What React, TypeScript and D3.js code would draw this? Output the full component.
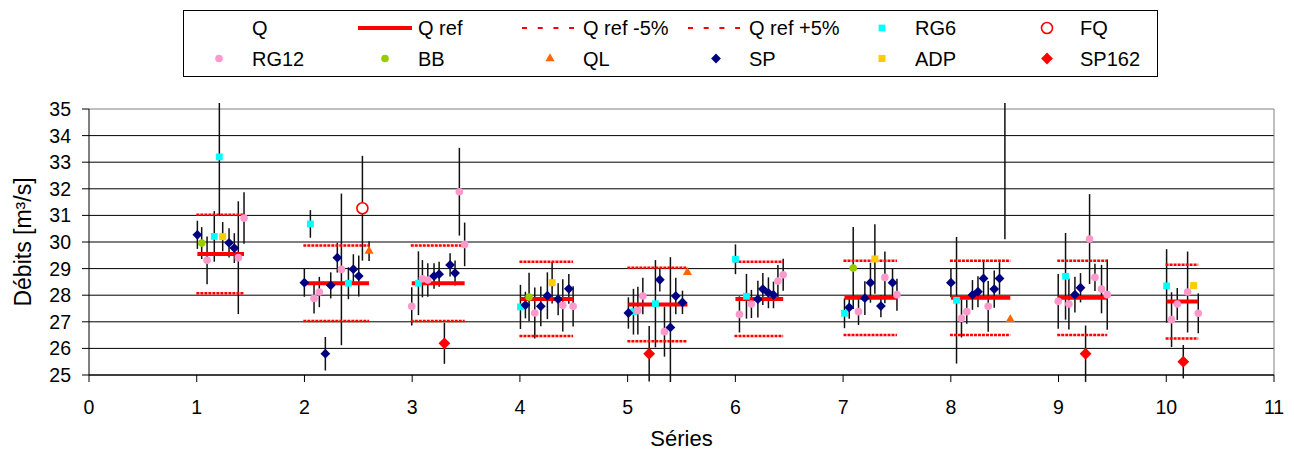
import React from "react";
import * as d3 from "d3";

// [x position on the "Séries" axis, flow m3/s, error half-width]
const RG6 = [
  [1.163, 30.21, 0.95], [1.21, 33.2, 2.2],
  [2.055, 30.68, 0.52], [2.408, 28.45, 0.6],
  [3.058, 28.45, 1.2],
  [4.005, 27.56, 0.83],
  [5.054, 27.38, 0.86], [5.258, 27.68, 1.64],
  [6.001, 29.35, 0.56], [6.103, 27.96, 0.84],
  [7.013, 27.32, 0.56],
  [8.053, 27.81, 2.38],
  [9.065, 28.71, 1.63],
  [10.003, 28.35, 1.38],
];
const FQ = [[2.538, 31.27, 1.97], [8.502, 37.5, 7.4]];
const RG12 = [
  [1.096, 29.31, 0.9], [1.386, 29.41, 2.12], [1.439, 30.9, 0.97],
  [2.089, 27.88, 0.57], [2.138, 28.12, 0.57], [2.343, 28.97, 2.85],
  [2.996, 27.58, 0.72], [3.095, 28.62, 0.7], [3.145, 28.57, 0.63], [3.438, 31.89, 1.65], [3.487, 29.91, 0.82],
  [4.138, 27.33, 0.96], [4.398, 27.62, 0.98], [4.494, 27.58, 0.76],
  [5.095, 27.42, 0.9], [5.141, 27.97, 0.69], [5.342, 26.63, 0.94],
  [6.038, 27.28, 0.68], [6.149, 27.67, 0.53], [6.395, 28.53, 0.61], [6.444, 28.77, 0.6],
  [7.143, 27.38, 0.5], [7.388, 28.67, 0.97], [7.5, 28.02, 0.6],
  [8.099, 27.13, 0.72], [8.148, 27.38, 0.45], [8.347, 27.58, 0.95],
  [8.997, 27.77, 1.03], [9.096, 27.67, 0.96], [9.288, 30.11, 1.69], [9.338, 28.67, 0.51], [9.399, 28.23, 0.91], [9.452, 28.02, 1.32],
  [10.049, 27.08, 1.03], [10.102, 27.67, 0.6], [10.198, 28.12, 1.52], [10.297, 27.32, 0.75],
];
const BB = [[1.046, 29.96, 0.6], [4.085, 27.93, 0.91], [7.094, 29.02, 1.54]];
const QL = [[2.6, 29.66, 0.37], [5.555, 28.86, 0], [8.552, 27.09, 0]];
const SP = [
  [1.006, 30.27, 0.53], [1.3, 29.97, 0.55], [1.349, 29.77, 0.56],
  [1.999, 28.47, 0.53], [2.194, 25.8, 0.63], [2.244, 28.37, 0.49], [2.305, 29.41, 0.56], [2.454, 28.98, 0.56], [2.504, 28.72, 0.77],
  [3.203, 28.72, 0.48], [3.25, 28.79, 0.47], [3.352, 29.14, 0.44], [3.398, 28.83, 0.47],
  [4.051, 27.63, 0.5], [4.194, 27.58, 0.75], [4.255, 27.98, 0.88], [4.355, 27.85, 0.6], [4.454, 28.24, 0.56],
  [5.007, 27.33, 0.59], [5.299, 28.58, 0.44], [5.397, 26.79, 2.64], [5.447, 27.97, 0.69], [5.509, 27.73, 0.44],
  [6.209, 27.85, 0.69], [6.255, 28.23, 0.6], [6.307, 28.09, 0.58], [6.354, 28.01, 0.5],
  [7.057, 27.54, 0.43], [7.202, 27.89, 0.63], [7.254, 28.47, 0.75], [7.351, 27.59, 0.42], [7.459, 28.47, 0.55],
  [8.001, 28.47, 0.55], [8.201, 28.01, 0.56], [8.252, 28.13, 0.58], [8.304, 28.63, 0.66], [8.403, 28.23, 0.7], [8.452, 28.63, 0.61],
  [9.152, 28.02, 0.67], [9.204, 28.28, 0.55],
];
const ADP = [[1.241, 30.2, 0.55], [4.299, 28.47, 0.78], [7.295, 29.36, 1.31], [10.254, 28.36, 0]];
const SP162 = [[3.299, 26.19, 0.77], [5.2, 25.8, 1.04], [9.251, 25.8, 1.06], [10.158, 25.5, 0.63]];

// reference flow per série (1..10)
const qRef = [29.55, 28.45, 28.45, 27.86, 27.65, 27.86, 27.9, 27.9, 27.9, 27.76];

const xTicks = d3.range(0, 12);
const yTicks = d3.range(25, 36);

const legendRow1 = ["Q", "Q ref", "Q ref -5%", "Q ref +5%", "RG6", "FQ"];
const legendRow2 = ["RG12", "BB", "QL", "SP", "ADP", "SP162"];

const FONT = "'Liberation Sans', Arial, sans-serif";

type Pt = number[];
type Style = { type: d3.SymbolType; size: number; fill: string; stroke?: string; rotate?: number };

const styles: Record<string, Style> = {
  RG6: { type: d3.symbolSquare, size: 46, fill: "#00ffff" },
  FQ: { type: d3.symbolCircle, size: 95, fill: "#ffffff", stroke: "#ff0000" },
  RG12: { type: d3.symbolCircle, size: 46, fill: "#ff99cc" },
  BB: { type: d3.symbolCircle, size: 46, fill: "#99cc00" },
  QL: { type: d3.symbolTriangle, size: 36, fill: "#ff6600" },
  SP: { type: d3.symbolSquare, size: 48, fill: "#000080", rotate: 45 },
  ADP: { type: d3.symbolSquare, size: 50, fill: "#ffcc00" },
  SP162: { type: d3.symbolSquare, size: 70, fill: "#ff0000", rotate: 45 },
};

const series: [string, Pt[]][] = [
  ["RG6", RG6], ["FQ", FQ], ["RG12", RG12], ["BB", BB], ["QL", QL],
  ["SP", SP], ["ADP", ADP], ["SP162", SP162],
];

const Marker = ({ name, cx, cy }: { name: string; cx: number; cy: number }) => {
  const s = styles[name];
  const d = d3.symbol().type(s.type).size(s.size)() as string;
  return (
    <path
      d={d}
      transform={`translate(${cx},${cy})${s.rotate ? ` rotate(${s.rotate})` : ""}`}
      fill={s.fill}
      stroke={s.stroke || "none"}
      strokeWidth={s.stroke ? 1.6 : 0}
    />
  );
};

export default function App() {
  const x = d3.scaleLinear().domain([0, 11]).range([89, 1274]);
  const y = d3.scaleLinear().domain([25, 35]).range([375, 109]);

  const allPts = series.flatMap(([, pts]) => pts);
  const groups = qRef.map((q, i) => {
    const xs = allPts.map((p) => p[0]).filter((v) => Math.round(v - 0.25) === i + 1);
    return { q, x0: d3.min(xs) as number, x1: d3.max(xs) as number };
  });

  const legendCols = [219, 385, 550, 716, 882, 1047];

  return (
    <svg width={1294} height={455} style={{ position: "absolute", left: 0, top: 0 }} fontFamily={FONT}>
      <defs>
        <clipPath id="plotClip">
          <rect x={x(0)} y={y(35) - 6} width={x(11) - x(0)} height={y(25) - y(35) + 13} />
        </clipPath>
      </defs>
      <rect width={1294} height={455} fill="#fff" />

      {/* legend */}
      <rect x={183.5} y={10.5} width={974} height={66} fill="#fff" stroke="#000" strokeWidth={1} />
      {legendRow1.map((label, i) => {
        const cx = legendCols[i];
        const cy = 28;
        return (
          <g key={label}>
            {label === "Q ref" && <line x1={cx - 27} x2={cx + 27} y1={cy} y2={cy} stroke="#ff0000" strokeWidth={4} />}
            {label.startsWith("Q ref ") && (
              <line x1={cx - 28} x2={cx + 24} y1={cy} y2={cy} stroke="#ff0000" strokeWidth={2.2} strokeDasharray="5 10.7" />
            )}
            {styles[label] && <Marker name={label} cx={cx} cy={cy} />}
            <text x={cx + 33} y={cy + 7} fontSize={20}>{label}</text>
          </g>
        );
      })}
      {legendRow2.map((label, i) => {
        const cx = legendCols[i];
        const cy = 58.5;
        return (
          <g key={label}>
            <Marker name={label} cx={cx} cy={cy} />
            <text x={cx + 33} y={cy + 7} fontSize={20}>{label}</text>
          </g>
        );
      })}

      {/* grid */}
      {yTicks.map((t) => (
        <line key={t} x1={x(0)} x2={x(11)} y1={y(t)} y2={y(t)} stroke={t === 35 ? "#808080" : "#000"} strokeWidth={1} />
      ))}
      <line x1={x(11)} x2={x(11)} y1={y(35)} y2={y(25)} stroke="#808080" strokeWidth={1} />

      {/* axes */}
      <line x1={x(0)} x2={x(0)} y1={y(35)} y2={y(25)} stroke="#000" strokeWidth={1} />
      <line x1={x(0)} x2={x(11)} y1={y(25)} y2={y(25)} stroke="#000" strokeWidth={1} />
      {yTicks.map((t) => (
        <g key={t}>
          <line x1={x(0) - 7} x2={x(0)} y1={y(t)} y2={y(t)} stroke="#000" />
          <text x={71} y={y(t) + 7} fontSize={19.5} textAnchor="end">{t}</text>
        </g>
      ))}
      {xTicks.map((t) => (
        <g key={t}>
          <line x1={x(t)} x2={x(t)} y1={y(25)} y2={y(25) + 7} stroke="#000" />
          <text x={x(t)} y={413.5} fontSize={19.5} textAnchor="middle">{t}</text>
        </g>
      ))}
      <text x={(x(0) + x(11)) / 2} y={446} fontSize={22} textAnchor="middle">Séries</text>
      <text transform={`translate(31,${(y(25) + y(35)) / 2}) rotate(-90)`} fontSize={23} textAnchor="middle">
        Débits [m³/s]
      </text>

      <g clipPath="url(#plotClip)">
        {/* error bars */}
        {series.flatMap(([name, pts]) =>
          pts.filter((p) => p[2] > 0).map((p, i) => (
            <line key={`${name}-e${i}`} x1={x(p[0])} x2={x(p[0])} y1={y(p[1] - p[2])} y2={y(p[1] + p[2])} stroke="#111" strokeWidth={1.5} />
          ))
        )}
        {/* reference lines */}
        {groups.map((g, i) => (
          <g key={i}>
            <line x1={x(g.x0)} x2={x(g.x1)} y1={y(g.q)} y2={y(g.q)} stroke="#ff0000" strokeWidth={4} />
            <line x1={x(g.x0) - 1} x2={x(g.x1)} y1={y(g.q * 0.95)} y2={y(g.q * 0.95)} stroke="#ff0000" strokeWidth={2.5} strokeDasharray="3 1" />
            <line x1={x(g.x0) - 1} x2={x(g.x1)} y1={y(g.q * 1.05)} y2={y(g.q * 1.05)} stroke="#ff0000" strokeWidth={2.5} strokeDasharray="3 1" />
          </g>
        ))}
      </g>
      <g clipPath="url(#plotClip)">
        {/* markers */}
        {series.flatMap(([name, pts]) =>
          pts.map((p, i) => <Marker key={`${name}-m${i}`} name={name} cx={x(p[0])} cy={y(p[1])} />)
        )}
      </g>
    </svg>
  );
}
